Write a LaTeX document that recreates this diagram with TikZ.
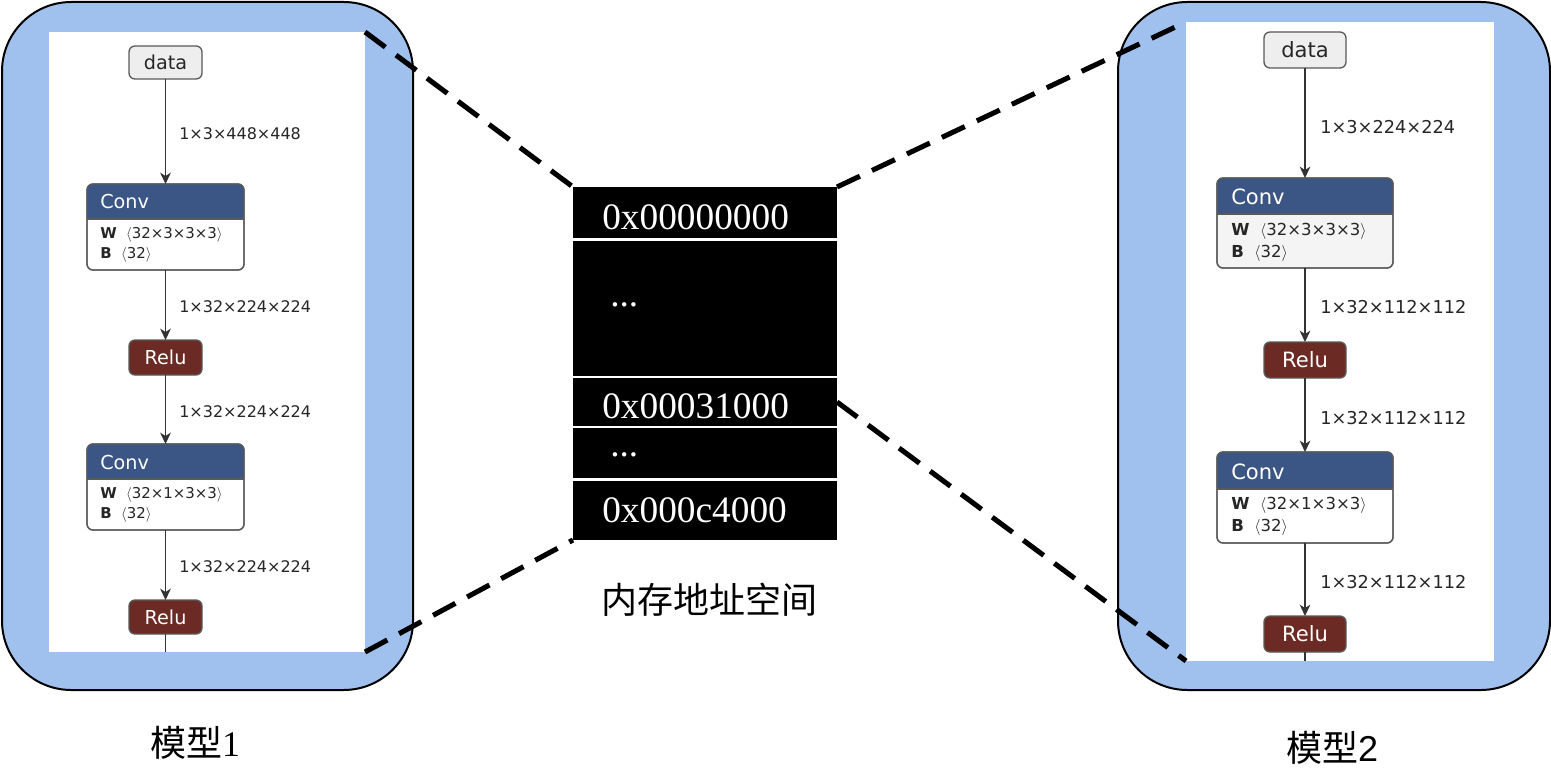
\documentclass[tikz,border=0pt]{standalone}
\usepackage{fontspec}
\newfontfamily\nt{DejaVu Sans}
\newfontfamily\cjk{Noto Sans CJK SC}
\newfontfamily\tms{Liberation Serif}
\newfontfamily\ars{Liberation Sans}
\usetikzlibrary{arrows.meta}
\definecolor{panelblue}{HTML}{A0C0EE}
\definecolor{convhead}{HTML}{3B5685}
\definecolor{relufill}{HTML}{6B2A23}
\definecolor{datafill}{HTML}{EEEEEE}
\definecolor{nborder}{HTML}{5A5A5A}
\definecolor{edgecol}{HTML}{333333}
\definecolor{lightbody}{HTML}{F4F4F4}
\newcommand{\convhdr}[2]{%
  \begin{scope}
    \clip[rounded corners=4.5pt] (#1.south west) rectangle (#1.north east);
    \fill[convhead] (#1.north west) rectangle ([yshift=-#2*0.75pt]#1.north east);
  \end{scope}
  \draw[nborder, line width=1pt, rounded corners=4.5pt] (#1.south west) rectangle (#1.north east);
  \draw[nborder, line width=0.8pt] ([yshift=-#2*0.75pt]#1.north west) -- ([yshift=-#2*0.75pt]#1.north east);
}
\begin{document}
\begin{tikzpicture}[x=0.75pt,y=-0.75pt,
  sz/.style 2 args={minimum width=#1*0.75pt, minimum height=#2*0.75pt, inner sep=0pt, outer sep=0pt},
  panel/.style={draw=black, line width=1.5pt, fill=panelblue, rounded corners=52pt},
  sheet/.style={fill=white, draw=none},
  nnode/.style={rounded corners=4.5pt, draw=nborder, line width=1pt},
  datanode/.style={nnode, fill=datafill, text=black!85},
  relunode/.style={nnode, fill=relufill, text=white},
  convbox/.style={nnode, fill=white},
  edge/.style={draw=edgecol, line width=1.1pt, -{Stealth[length=8.5pt,width=8pt,inset=2.5pt]}},
  plainedge/.style={draw=edgecol, line width=1.1pt},
  lfontL/.style={font=\nt\fontsize{12}{14}\selectfont},
  lfontR/.style={font=\nt\fontsize{13.3}{15}\selectfont},
  elabL/.style={lfontL, text=black!85, anchor=west, inner sep=0pt},
  elabR/.style={lfontR, text=black!85, anchor=west, inner sep=0pt},
  nfontL/.style={font=\nt\fontsize{14.4}{16}\selectfont},
  nfontR/.style={font=\nt\fontsize{15.8}{18}\selectfont},
  ctitleL/.style={nfontL, text=white, anchor=west, inner sep=0pt},
  ctitleR/.style={nfontR, text=white, anchor=west, inner sep=0pt},
  wtextL/.style={font=\nt\fontsize{11.2}{13}\selectfont, text=black!85, anchor=west, inner sep=0pt},
  wtextR/.style={font=\nt\fontsize{12.4}{14}\selectfont, text=black!85, anchor=west, inner sep=0pt},
  memrow/.style={fill=black, draw=none},
  hextext/.style={font=\tms\fontsize{28}{30}\selectfont, text=white, anchor=base west, inner sep=0pt},
  conn/.style={draw=black, line width=3.8pt, dash pattern=on 19pt off 10pt},
  caption/.style={font=\cjk\fontsize{27}{30}\selectfont, text=black, inner sep=0pt}
]
\useasboundingbox (0,0) rectangle (1551,780);

% ---------- left panel ----------
\node[panel, sz={411}{688}] (lp) at (207.5,346) {};
\node[sheet, sz={316}{620}] (lw) at (207,342) {};

\node[datanode, sz={73}{33}, nfontL] (ld) at (165.5,62.5) {data};
\node[convbox, sz={157}{86}] (lc1) at (165.5,227) {};
\convhdr{lc1}{35}
\node[ctitleL] (lc1t) at (100,202) {Conv};
\node[wtextL] (lc1w) at (100,235) {\textbf{W}\ \ $\langle$32×3×3×3$\rangle$};
\node[wtextL] (lc1b) at (100,255) {\textbf{B}\ \ $\langle$32$\rangle$};
\node[relunode, sz={73}{35}, nfontL] (lr1) at (165.5,357.5) {Relu};
\node[convbox, sz={157}{86}] (lc2) at (165.5,487) {};
\convhdr{lc2}{35}
\node[ctitleL] (lc2t) at (100,463) {Conv};
\node[wtextL] (lc2w) at (100,495) {\textbf{W}\ \ $\langle$32×1×3×3$\rangle$};
\node[wtextL] (lc2b) at (100,515) {\textbf{B}\ \ $\langle$32$\rangle$};
\node[relunode, sz={73}{34}, nfontL] (lr2) at (165.5,617) {Relu};
\coordinate (lend) at (165.5,652);

\draw[edge] (ld) -- (lc1);
\draw[edge] (lc1) -- (lr1);
\draw[edge] (lr1) -- (lc2);
\draw[edge] (lc2) -- (lr2);
\draw[plainedge] (lr2) -- (lend);

\node[elabL] (ll1) at (179,134) {1×3×448×448};
\node[elabL] (ll2) at (179,307) {1×32×224×224};
\node[elabL] (ll3) at (179,412) {1×32×224×224};
\node[elabL] (ll4) at (179,567) {1×32×224×224};

% ---------- right panel ----------
\node[panel, sz={432}{688}] (rp) at (1334,346) {};
\node[sheet, sz={308}{639}] (rw) at (1340,341.5) {};

\node[datanode, sz={82}{36}, nfontR] (rd) at (1305,50) {data};
\node[convbox, fill=lightbody, sz={176}{90}] (rc1) at (1305,223) {};
\convhdr{rc1}{36}
\node[ctitleR] (rc1t) at (1231,197) {Conv};
\node[wtextR] (rc1w) at (1231,231) {\textbf{W}\ \ $\langle$32×3×3×3$\rangle$};
\node[wtextR] (rc1b) at (1231,253) {\textbf{B}\ \ $\langle$32$\rangle$};
\node[relunode, sz={82}{36}, nfontR] (rr1) at (1305,360) {Relu};
\node[convbox, sz={176}{91}] (rc2) at (1305,497.5) {};
\convhdr{rc2}{37}
\node[ctitleR] (rc2t) at (1231,472) {Conv};
\node[wtextR] (rc2w) at (1231,505) {\textbf{W}\ \ $\langle$32×1×3×3$\rangle$};
\node[wtextR] (rc2b) at (1231,527) {\textbf{B}\ \ $\langle$32$\rangle$};
\node[relunode, sz={82}{36}, nfontR] (rr2) at (1305,634) {Relu};
\coordinate (rend) at (1305,661);

\draw[edge] (rd) -- (rc1);
\draw[edge] (rc1) -- (rr1);
\draw[edge] (rr1) -- (rc2);
\draw[edge] (rc2) -- (rr2);
\draw[plainedge] (rr2) -- (rend);

\node[elabR] (rl1) at (1320,127) {1×3×224×224};
\node[elabR] (rl2) at (1320,307) {1×32×112×112};
\node[elabR] (rl3) at (1320,418) {1×32×112×112};
\node[elabR] (rl4) at (1320,582) {1×32×112×112};

% ---------- memory ----------
\node[memrow, sz={264}{51}] (m1) at (705,212.5) {};
\node[memrow, sz={264}{135}] (m2) at (705,308.5) {};
\node[memrow, sz={264}{48}] (m3) at (705,402) {};
\node[memrow, sz={264}{50}] (m4) at (705,453) {};
\node[memrow, sz={264}{59}] (m5) at (705,510.5) {};
\node[hextext] (t1) at (602,230) {0x00000000};
\node[hextext] (t2) at (610,306) {...};
\node[hextext] (t3) at (602,418) {0x00031000};
\node[hextext] (t4) at (610,456) {...};
\node[hextext] (t5) at (602,522) {0x000c4000};

% ---------- dashed connectors ----------
\draw[conn] (lw.north east) -- (m1.north west);
\draw[conn] (lw.south east) -- (m5.south west);
\draw[conn] (m1.north east) -- (rw.north west);
\draw[conn] (m3.east) -- (rw.south west);

% ---------- captions ----------
\node[caption] (cap0) at (709,600) {内存地址空间};
\node[caption] (cap1) at (195,743) {模型{\tms 1}};
\node[caption] (cap2) at (1332,748) {模型{\ars 2}};
\end{tikzpicture}
\end{document}
